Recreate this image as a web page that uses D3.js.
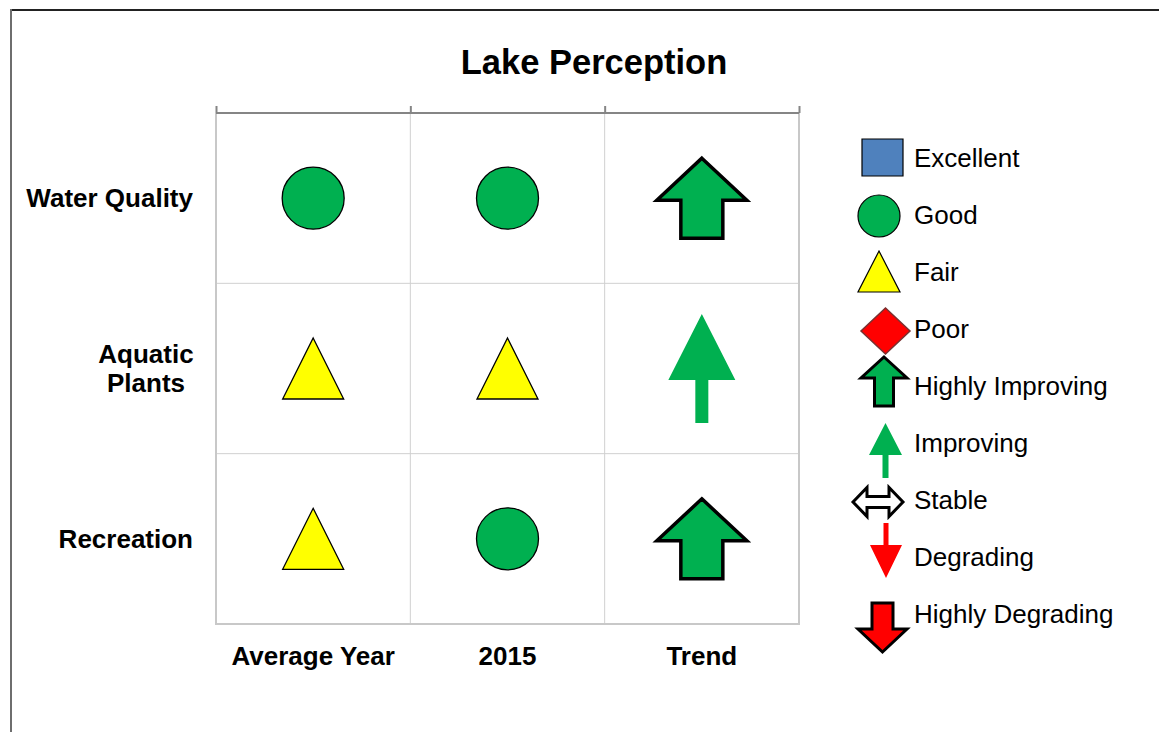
<!DOCTYPE html>
<html>
<head>
<meta charset="utf-8">
<script src="https://cdn.jsdelivr.net/npm/d3@7"></script>
<style>
  html, body { margin: 0; padding: 0; background: #fff; }
  svg { display: block; font-family: "Liberation Sans", Arial, sans-serif; }
</style>
</head>
<body>
<svg id="chart" width="1159" height="732"></svg>
<script>
// ---- data ----
const title = "Lake Perception";
const rows = ["Water Quality", "Aquatic Plants", "Recreation"];
const columns = ["Average Year", "2015", "Trend"];
const averageYear = ["Good", "Fair", "Fair"];
const year2015 = ["Good", "Fair", "Good"];
const trend = ["Highly Improving", "Improving", "Highly Improving"];
const legendLabels = ["Excellent", "Good", "Fair", "Poor", "Highly Improving", "Improving", "Stable", "Degrading", "Highly Degrading"];

// ---- style ----
const COLORS = { green: "#00b050", yellow: "#ffff00", blue: "#4f81bd", red: "#ff0000" };

function upArrow(w, h, headH, shaftW) {
  const t = -h / 2, b = h / 2, hb = t + headH;
  return `M0,${t}L${w/2},${hb}L${shaftW/2},${hb}L${shaftW/2},${b}L${-shaftW/2},${b}L${-shaftW/2},${hb}L${-w/2},${hb}Z`;
}
function downArrow(w, h, headH, shaftW) {
  const t = -h / 2, b = h / 2, hb = b - headH;
  return `M0,${b}L${w/2},${hb}L${shaftW/2},${hb}L${shaftW/2},${t}L${-shaftW/2},${t}L${-shaftW/2},${hb}L${-w/2},${hb}Z`;
}
function doubleArrow(w, h, headL, s) {
  const l = -w / 2, r = w / 2;
  return `M${l},0L${l+headL},${-h/2}L${l+headL},${-s/2}L${r-headL},${-s/2}L${r-headL},${-h/2}L${r},0L${r-headL},${h/2}L${r-headL},${s/2}L${l+headL},${s/2}L${l+headL},${h/2}Z`;
}

// cell-size icons
const cellShapes = {
  "Good": { d: () => d3.arc()({innerRadius:0, outerRadius:31, startAngle:0, endAngle:2*Math.PI}), fill: COLORS.green, stroke: "#000", sw: 1.3 },
  "Fair": { d: () => `M0,-30.5L30.5,30.5L-30.5,30.5Z`, fill: COLORS.yellow, stroke: "#000", sw: 1.3 },
  "Highly Improving": { d: () => upArrow(90, 80, 42, 42), fill: COLORS.green, stroke: "#000", sw: 3.5 },
  "Improving": { d: () => upArrow(67, 109, 66, 13), fill: COLORS.green, stroke: "none", sw: 0 }
};
// legend icons
const legendShapes = {
  "Excellent": { d: () => `M-20.5,-18.5H20.5V18.5H-20.5Z`, fill: COLORS.blue, stroke: "#000", sw: 1.2, dx: 0, dy: -0.5 },
  "Good": { d: () => d3.arc()({innerRadius:0, outerRadius:21, startAngle:0, endAngle:2*Math.PI}), fill: COLORS.green, stroke: "#000", sw: 1.2, dx: -3.5, dy: 1 },
  "Fair": { d: () => `M0,-20.5L21,20.5L-21,20.5Z`, fill: COLORS.yellow, stroke: "#000", sw: 1.2, dx: -3.5, dy: -0.5 },
  "Poor": { d: () => `M0,-23L24.5,0L0,23L-24.5,0Z`, fill: COLORS.red, stroke: "#7a3030", sw: 1.5, dx: 3, dy: 2 },
  "Highly Improving": { d: () => upArrow(46, 49, 21, 19), fill: COLORS.green, stroke: "#000", sw: 3, dx: 1.5, dy: -4.5 },
  "Improving": { d: () => upArrow(33, 55, 32, 6), fill: COLORS.green, stroke: "none", sw: 0, dx: 3, dy: 7.5 },
  "Stable": { d: () => doubleArrow(50, 29, 14, 11), fill: "#fff", stroke: "#000", sw: 3, dx: -4.5, dy: 2 },
  "Degrading": { d: () => downArrow(32, 55, 33, 5), fill: COLORS.red, stroke: "none", sw: 0, dx: 3.5, dy: -6.5 },
  "Highly Degrading": { d: () => downArrow(49, 49, 23, 21), fill: COLORS.red, stroke: "#000", sw: 3, dx: 0, dy: 13.5 }
};

// ---- layout ----
const svg = d3.select("#chart");
const plot = { left: 216, right: 799, top: 113, bottom: 624 };

const x = d3.scaleBand().domain(columns).range([plot.left, plot.right]);
const y = d3.scaleBand().domain(rows).range([plot.top, plot.bottom]);

// outer frame
svg.append("line").attr("x1", 11).attr("x2", 1159).attr("y1", 10).attr("y2", 10)
  .attr("stroke", "#222").attr("stroke-width", 2);
svg.append("line").attr("x1", 11).attr("x2", 11).attr("y1", 9).attr("y2", 732)
  .attr("stroke", "#6e6e6e").attr("stroke-width", 2);

// title
svg.append("text").attr("x", 594).attr("y", 74).attr("text-anchor", "middle")
  .attr("font-size", 34.5).attr("font-weight", "bold").text(title);

// grid
const grid = svg.append("g");
columns.slice(1).forEach(c => {
  grid.append("line").attr("x1", x(c)).attr("x2", x(c)).attr("y1", plot.top).attr("y2", plot.bottom)
    .attr("stroke", "#d0d0d0").attr("stroke-width", 1);
});
rows.slice(1).forEach(r => {
  grid.append("line").attr("x1", plot.left).attr("x2", plot.right).attr("y1", y(r)).attr("y2", y(r))
    .attr("stroke", "#d0d0d0").attr("stroke-width", 1);
});
// frame: left, right, bottom light gray
grid.append("path")
  .attr("d", `M${plot.left},${plot.top}V${plot.bottom}H${plot.right}V${plot.top}`)
  .attr("fill", "none").attr("stroke", "#c8c8c8").attr("stroke-width", 2);

// top axis with ticks
const topAxis = d3.axisTop(d3.scaleLinear().domain([0, columns.length]).range([plot.left, plot.right]))
  .ticks(columns.length).tickSize(7).tickFormat("");
const ta = svg.append("g").attr("transform", `translate(0,${plot.top})`).call(topAxis);
ta.select(".domain").attr("stroke", "#858585").attr("stroke-width", 2).attr("d", `M${plot.left},0H${plot.right}`);
ta.selectAll(".tick line").attr("stroke", "#858585").attr("stroke-width", 2);

// row labels
const rowLab = svg.append("g").attr("font-size", 26).attr("font-weight", "bold").attr("fill", "#000");
rows.forEach(r => {
  const cy = y(r) + y.bandwidth() / 2;
  const parts = r === "Aquatic Plants" ? ["Aquatic", "Plants"] : [r];
  if (parts.length === 1) {
    rowLab.append("text").attr("x", 193).attr("y", cy + 9).attr("text-anchor", "end").text(r);
  } else {
    parts.forEach((p, i) => {
      rowLab.append("text").attr("x", 146).attr("y", cy - 14.5 + 9 + i * 29)
        .attr("text-anchor", "middle").text(p);
    });
  }
});

// column labels
svg.append("g").selectAll("text").data(columns).join("text")
  .attr("x", d => x(d) + x.bandwidth() / 2).attr("y", 664.5)
  .attr("text-anchor", "middle").attr("font-size", 26).attr("font-weight", "bold").text(d => d);

// cells
const cells = [];
rows.forEach((r, i) => {
  cells.push({ row: r, col: columns[0], v: averageYear[i] });
  cells.push({ row: r, col: columns[1], v: year2015[i] });
  cells.push({ row: r, col: columns[2], v: trend[i] });
});
svg.append("g").selectAll("path").data(cells).join("path")
  .attr("transform", d => `translate(${x(d.col) + x.bandwidth() / 2},${y(d.row) + y.bandwidth() / 2})`)
  .attr("d", d => cellShapes[d.v].d())
  .attr("fill", d => cellShapes[d.v].fill)
  .attr("stroke", d => cellShapes[d.v].stroke)
  .attr("stroke-width", d => cellShapes[d.v].sw)
  .attr("stroke-linejoin", "miter");

// legend
const ly = d3.scalePoint().domain(legendLabels).range([158, 158 + 57 * 8]);
const lg = svg.append("g");
lg.selectAll("path").data(legendLabels).join("path")
  .attr("transform", d => `translate(${882.5 + legendShapes[d].dx},${ly(d) + legendShapes[d].dy})`)
  .attr("d", d => legendShapes[d].d())
  .attr("fill", d => legendShapes[d].fill)
  .attr("stroke", d => legendShapes[d].stroke)
  .attr("stroke-width", d => legendShapes[d].sw);
lg.selectAll("text").data(legendLabels).join("text")
  .attr("x", 914).attr("y", d => ly(d) + 9.3)
  .attr("font-size", 26).attr("fill", "#000").text(d => d);
</script>
</body>
</html>
